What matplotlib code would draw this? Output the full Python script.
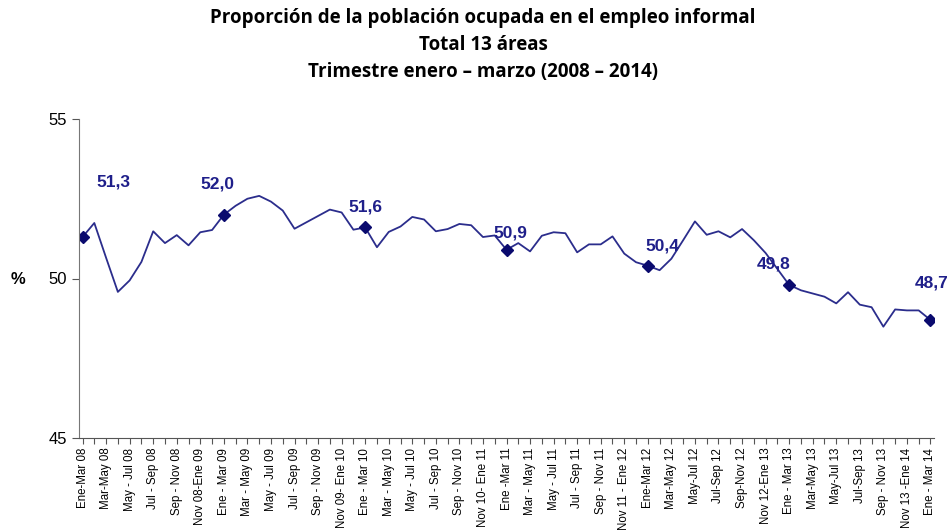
import numpy as np
import matplotlib.pyplot as plt

labels = ["Ene-Mar 08", "Mar-May 08", "May - Jul 08", "Jul - Sep 08", "Sep - Nov 08",
          "Nov 08-Ene 09", "Ene - Mar 09", "Mar - May 09", "May - Jul 09", "Jul - Sep 09",
          "Sep - Nov 09", "Nov 09- Ene 10", "Ene - Mar 10", "Mar - May 10", "May - Jul 10",
          "Jul - Sep 10", "Sep - Nov 10", "Nov 10- Ene 11", "Ene -Mar 11", "Mar - May 11",
          "May - Jul 11", "Jul - Sep 11", "Sep - Nov 11", "Nov 11 - Ene 12", "Ene-Mar 12",
          "Mar-May 12", "May-Jul 12", "Jul-Sep 12", "Sep-Nov 12", "Nov 12-Ene 13",
          "Ene - Mar 13", "Mar-May 13", "May-Jul 13", "Jul-Sep 13", "Sep - Nov 13",
          "Nov 13 -Ene 14", "Ene - Mar 14"]

values = [51.3, 51.74, 50.65, 49.58, 49.94, 50.52, 51.48, 51.11, 51.36, 51.04,
          51.45, 51.52, 52.0, 52.28, 52.5, 52.59, 52.41, 52.13, 51.56, 51.76,
          51.96, 52.16, 52.07, 51.53, 51.6, 50.98, 51.46, 51.63, 51.93, 51.85,
          51.48, 51.55, 51.71, 51.67, 51.3, 51.35, 50.9, 51.11, 50.85, 51.34,
          51.45, 51.42, 50.82, 51.07, 51.07, 51.32, 50.78, 50.51, 50.4, 50.26,
          50.62, 51.2, 51.79, 51.37, 51.48, 51.29, 51.55, 51.2, 50.8, 50.3,
          49.8, 49.63, 49.53, 49.43, 49.22, 49.57, 49.18, 49.1, 48.49, 49.03,
          49.0, 49.0, 48.7]

mark_idx = [0, 12, 24, 36, 48, 60, 72]
mark_txt = ["51,3", "52,0", "51,6", "50,9", "50,4", "49,8", "48,7"]
txt_off = [(31, 55), (-6, 31), (0, 20), (4, 17), (15, 20), (-16, 21), (1, 37)]

x = np.arange(len(values))

fig = plt.figure(figsize=(9.52, 5.31), dpi=100)
ax = fig.add_axes([79 / 952, 1 - 438 / 531, 855 / 952, 319 / 531])

ax.plot(x, values, color="#2B2D8C", lw=1.3)
ax.plot(x[mark_idx], [values[i] for i in mark_idx], "D", color="#0A0A6E", ms=6)
for i, t, (dx, dy) in zip(mark_idx, mark_txt, txt_off):
    ax.annotate(t, (x[i], values[i]), xytext=(dx, dy), textcoords="offset pixels",
                ha="center", va="center", fontsize=12.5, fontweight="bold",
                color="#1F1F8A", family="Liberation Sans", annotation_clip=False)

ax.set_xlim(-0.3, 72.3)
ax.set_ylim(45, 55)
ax.set_yticks([45, 50, 55])
ax.set_yticklabels(["45", "50", "55"], fontsize=12, family="Liberation Sans")
ax.set_xticks(x)
ax.set_xticklabels([labels[i // 2] if i % 2 == 0 else "" for i in x],
                   rotation=90, fontsize=8.3, family="Liberation Sans")
ax.tick_params(axis="x", length=4, color="#555555", pad=3)
ax.tick_params(axis="y", length=5, color="#555555")

for s in ["top", "right"]:
    ax.spines[s].set_visible(False)
ax.spines["left"].set_color("#777777")
ax.spines["bottom"].set_color("#555555")

fig.text(18 / 952, 1 - 280 / 531, "%", fontsize=12, fontweight="bold",
         ha="center", va="center", family="Liberation Sans")

title = "Proporción de la población ocupada en el empleo informal\nTotal 13 áreas\nTrimestre enero – marzo (2008 – 2014)"
fig.text(483 / 952, 1 - 45 / 531, title, fontsize=13.5, fontweight="bold",
         ha="center", va="center", linespacing=1.45, family="Open Sans")

fig.savefig("out.png", dpi=100)
